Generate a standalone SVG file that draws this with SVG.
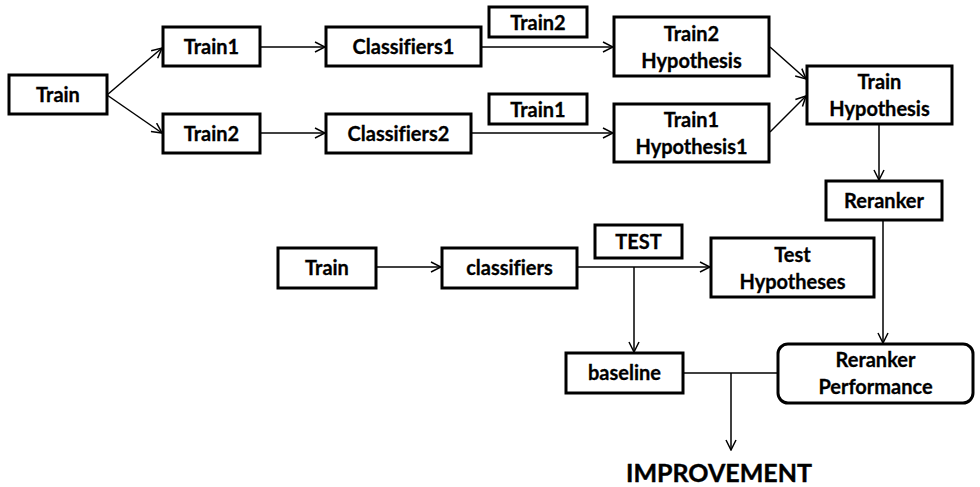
<svg xmlns="http://www.w3.org/2000/svg" width="980" height="487" viewBox="0 0 980 487">
  <style>
    .box { fill: #ffffff; stroke: #000000; stroke-width: 3; }
    .lbl { font-family: Lato, "Liberation Sans", sans-serif; font-weight: bold; font-size: 20px; fill: #000000; text-anchor: middle; font-variant-ligatures: none; stroke: #000000; stroke-width: 0.3; }
    .big { font-family: Lato, "Liberation Sans", sans-serif; font-weight: bold; font-size: 25px; fill: #000000; text-anchor: middle; stroke: #000000; stroke-width: 0.4; }
    .edge { fill: none; stroke: #000000; stroke-width: 1.5; }
  </style>
  <defs>
    <marker id="arrow" viewBox="0 0 12 12" refX="11" refY="6" markerWidth="12" markerHeight="12" markerUnits="userSpaceOnUse" orient="auto">
      <path d="M1,1 L11,6 L1,11" fill="none" stroke="#000000" stroke-width="1.5"/>
    </marker>
  </defs>

  <rect width="980" height="487" fill="#ffffff"/>

  <!-- connectors -->
  <g id="connectors">
    <line class="edge" x1="107" y1="95" x2="162" y2="48" marker-end="url(#arrow)"/>
    <line class="edge" x1="107" y1="95" x2="162" y2="133" marker-end="url(#arrow)"/>
    <line class="edge" x1="260" y1="47" x2="325" y2="47" marker-end="url(#arrow)"/>
    <line class="edge" x1="260" y1="133" x2="325" y2="133" marker-end="url(#arrow)"/>
    <line class="edge" x1="481" y1="47" x2="613" y2="47" marker-end="url(#arrow)"/>
    <line class="edge" x1="471" y1="133" x2="613" y2="133" marker-end="url(#arrow)"/>
    <line class="edge" x1="770" y1="47" x2="806" y2="79" marker-end="url(#arrow)"/>
    <line class="edge" x1="770" y1="132" x2="806" y2="96" marker-end="url(#arrow)"/>
    <line class="edge" x1="879" y1="124" x2="879" y2="180" marker-end="url(#arrow)"/>
    <line class="edge" x1="883" y1="220" x2="883" y2="343" marker-end="url(#arrow)"/>
    <line class="edge" x1="376" y1="267" x2="441" y2="267" marker-end="url(#arrow)"/>
    <line class="edge" x1="577" y1="267" x2="710" y2="267" marker-end="url(#arrow)"/>
    <line class="edge" x1="634" y1="267" x2="634" y2="352" marker-end="url(#arrow)"/>
    <line class="edge" x1="683" y1="373" x2="778" y2="373"/>
    <line class="edge" x1="731" y1="373" x2="731" y2="450" marker-end="url(#arrow)"/>
  </g>

  <!-- nodes -->
  <g id="train">
    <rect class="box" x="9" y="75" width="98" height="39"/>
    <text class="lbl" x="58" y="101.5">Train</text>
  </g>
  <g id="train1">
    <rect class="box" x="163" y="27" width="97" height="39"/>
    <text class="lbl" x="211.5" y="54">Train1</text>
  </g>
  <g id="train2">
    <rect class="box" x="163" y="114" width="97" height="39"/>
    <text class="lbl" x="211.5" y="141">Train2</text>
  </g>
  <g id="classifiers1">
    <rect class="box" x="326" y="27" width="155" height="39"/>
    <text class="lbl" x="403.5" y="54">Classifiers1</text>
  </g>
  <g id="classifiers2">
    <rect class="box" x="326" y="114" width="145" height="39"/>
    <text class="lbl" x="398.5" y="141">Classifiers2</text>
  </g>
  <g id="label-train2">
    <rect class="box" x="489" y="7" width="98" height="30"/>
    <text class="lbl" x="538" y="29.5">Train2</text>
  </g>
  <g id="label-train1">
    <rect class="box" x="489" y="94" width="98" height="30"/>
    <text class="lbl" x="538" y="116.5">Train1</text>
  </g>
  <g id="train2-hypothesis">
    <rect class="box" x="614" y="17" width="155" height="59"/>
    <text class="lbl" x="691.5" y="41">Train2</text>
    <text class="lbl" x="691.5" y="68">Hypothesis</text>
  </g>
  <g id="train1-hypothesis1">
    <rect class="box" x="614" y="104" width="155" height="58"/>
    <text class="lbl" x="691.5" y="127">Train1</text>
    <text class="lbl" x="691.5" y="154">Hypothesis1</text>
  </g>
  <g id="train-hypothesis">
    <rect class="box" x="807" y="66" width="145" height="58"/>
    <text class="lbl" x="879.5" y="89">Train</text>
    <text class="lbl" x="879.5" y="116">Hypothesis</text>
  </g>
  <g id="reranker">
    <rect class="box" x="826" y="181" width="116" height="39"/>
    <text class="lbl" x="884" y="208">Reranker</text>
  </g>
  <g id="test-train">
    <rect class="box" x="278" y="248" width="98" height="40"/>
    <text class="lbl" x="327" y="275">Train</text>
  </g>
  <g id="classifiers">
    <rect class="box" x="442" y="248" width="135" height="40"/>
    <text class="lbl" x="509.5" y="275">classifiers</text>
  </g>
  <g id="label-test">
    <rect class="box" x="595" y="225" width="87" height="33"/>
    <text class="lbl" x="638.5" y="248.5">TEST</text>
  </g>
  <g id="test-hypotheses">
    <rect class="box" x="711" y="238" width="163" height="59"/>
    <text class="lbl" x="792.5" y="262">Test</text>
    <text class="lbl" x="792.5" y="289">Hypotheses</text>
  </g>
  <g id="baseline">
    <rect class="box" x="566" y="353" width="117" height="40"/>
    <text class="lbl" x="624.5" y="380">baseline</text>
  </g>
  <g id="reranker-performance">
    <rect class="box" x="778" y="344" width="195" height="59" rx="10" ry="10"/>
    <text class="lbl" x="875.5" y="367">Reranker</text>
    <text class="lbl" x="875.5" y="394">Performance</text>
  </g>
  <g id="improvement">
    <text class="big" x="719" y="482">IMPROVEMENT</text>
  </g>
</svg>
